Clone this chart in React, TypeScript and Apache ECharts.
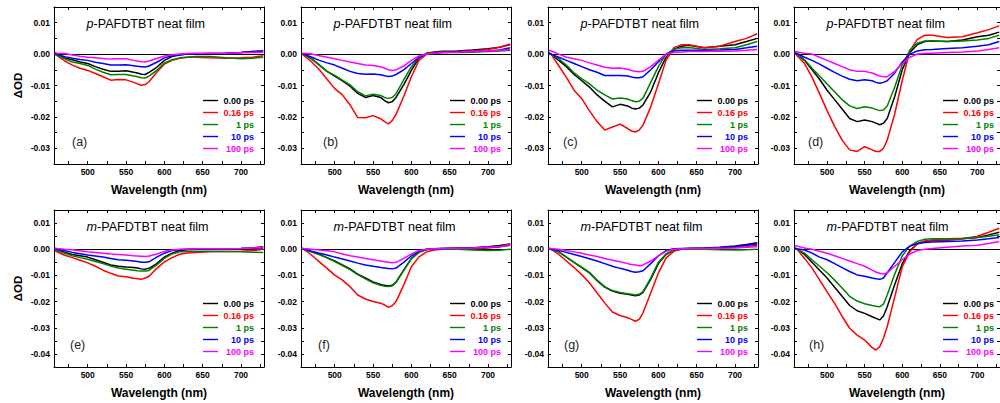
import React, { useEffect, useRef } from "react";
import * as echarts from "echarts";

// Wavelength sampling (nm)
const wavelengths = [457, 460, 470, 480, 490, 500, 510, 520, 530, 540, 550, 560, 565, 570, 575, 580, 590, 600, 610, 620, 630, 640, 660, 680, 700, 715, 729];
const delays = ["0.00 ps", "0.16 ps", "1 ps", "10 ps", "100 ps"];
const colors = ["#000000", "#ff0000", "#008000", "#0000ff", "#ff00ff"];
const xLabelValues = [500, 550, 600, 650, 700];
const xTickValues = [475, 500, 525, 550, 575, 600, 625, 650, 675, 700, 725];
const yLabelTop = [-0.03, -0.02, -0.01, 0, 0.01];
const yLabelBottom = [-0.04, -0.03, -0.02, -0.01, 0, 0.01];
const yTickTop = [-0.03, -0.025, -0.02, -0.015, -0.01, -0.005, 0, 0.005, 0.01];
const yTickBottom = [-0.04, -0.035, -0.03, -0.025, -0.02, -0.015, -0.01, -0.005, 0, 0.005, 0.01];

// (a) p-PAFDTBT
const a_t000 = [0.0005, 0, -0.0012, -0.0018, -0.0025, -0.003, -0.004, -0.0048, -0.0055, -0.0055, -0.0053, -0.0058, -0.006, -0.0064, -0.0065, -0.0058, -0.0042, -0.002, -0.0008, -0.0003, 0, 0, 0.0002, 0.0003, 0.0005, 0.0008, 0.001];
const a_t016 = [0, -0.0005, -0.0022, -0.0035, -0.0045, -0.0052, -0.0062, -0.0072, -0.0083, -0.0081, -0.0082, -0.009, -0.0095, -0.0099, -0.0097, -0.0088, -0.0058, -0.0032, -0.002, -0.0013, -0.001, -0.001, -0.0012, -0.0013, -0.0012, -0.001, -0.0005];
const a_t1 = [0, -0.0003, -0.0015, -0.0025, -0.003, -0.0036, -0.0048, -0.0058, -0.0066, -0.0065, -0.0065, -0.007, -0.0072, -0.0075, -0.0076, -0.007, -0.0052, -0.0028, -0.0018, -0.0012, -0.001, -0.0008, -0.0008, -0.0012, -0.0015, -0.0013, -0.001];
const a_t10 = [0.0003, 0, -0.0008, -0.0013, -0.0017, -0.002, -0.0026, -0.003, -0.0035, -0.0035, -0.0034, -0.0037, -0.0039, -0.004, -0.0041, -0.0038, -0.0026, -0.0012, -0.0005, -0.0002, 0, 0, 0.0002, 0.0003, 0.0005, 0.0008, 0.001];
const a_t100 = [0.0005, 0.0003, 0.0002, -0.0003, -0.0007, -0.001, -0.0012, -0.0014, -0.0016, -0.0015, -0.0015, -0.002, -0.0022, -0.0024, -0.0025, -0.0022, -0.0014, -0.0006, -0.0002, 0, 0.0002, 0.0003, 0.0003, 0.0002, 0.0004, 0.0005, 0.0006];

// (b) p-PAFDTBT
const b_t000 = [0, 0, -0.0015, -0.0035, -0.0055, -0.007, -0.0085, -0.0102, -0.0125, -0.0138, -0.0132, -0.0138, -0.0148, -0.0155, -0.0152, -0.0138, -0.0098, -0.0052, -0.0012, 0.0003, 0.0007, 0.0009, 0.001, 0.0013, 0.0017, 0.0022, 0.003];
const b_t016 = [0.0002, -0.0005, -0.0025, -0.005, -0.008, -0.011, -0.013, -0.0162, -0.0202, -0.0203, -0.0196, -0.0206, -0.0215, -0.0222, -0.0212, -0.0192, -0.0135, -0.0072, -0.002, 0, 0.0005, 0.0007, 0.0008, 0.001, 0.0015, 0.0022, 0.0032];
const b_t1 = [0, 0, -0.0015, -0.0035, -0.0055, -0.0068, -0.0083, -0.0098, -0.012, -0.0133, -0.0128, -0.0132, -0.0138, -0.0141, -0.0138, -0.0126, -0.0082, -0.004, -0.001, 0.0001, 0.0004, 0.0005, 0.0005, 0.0006, 0.0008, 0.001, 0.0012];
const b_t10 = [0.0002, 0, -0.001, -0.002, -0.0028, -0.0035, -0.0045, -0.0055, -0.0062, -0.0064, -0.0063, -0.0066, -0.0069, -0.0071, -0.007, -0.0065, -0.005, -0.003, -0.001, 0, 0.0003, 0.0005, 0.0007, 0.0008, 0.001, 0.0013, 0.002];
const b_t100 = [0.0003, 0.0003, 0, -0.0005, -0.001, -0.0015, -0.002, -0.0025, -0.003, -0.0035, -0.0036, -0.004, -0.0045, -0.005, -0.0052, -0.005, -0.0038, -0.002, -0.0006, 0, 0.0003, 0.0005, 0.0006, 0.0008, 0.001, 0.0012, 0.0015];

// (c) p-PAFDTBT
const c_t000 = [0.0003, 0, -0.002, -0.004, -0.0065, -0.0085, -0.0105, -0.013, -0.015, -0.0168, -0.016, -0.0165, -0.0172, -0.0175, -0.0172, -0.0162, -0.012, -0.006, -0.001, 0.0015, 0.0025, 0.0028, 0.002, 0.0025, 0.003, 0.004, 0.005];
const c_t016 = [0.0003, 0, -0.0037, -0.0074, -0.0115, -0.0142, -0.018, -0.0215, -0.0242, -0.0232, -0.0223, -0.0237, -0.0245, -0.0248, -0.0242, -0.0226, -0.0168, -0.0095, -0.002, 0.002, 0.003, 0.003, 0.002, 0.0025, 0.004, 0.005, 0.0065];
const c_t1 = [0, 0, -0.0015, -0.0035, -0.006, -0.0078, -0.0095, -0.0115, -0.013, -0.0143, -0.014, -0.0143, -0.0148, -0.0152, -0.015, -0.014, -0.009, -0.004, 0, 0.0015, 0.002, 0.0021, 0.0015, 0.0017, 0.002, 0.003, 0.004];
const c_t10 = [0.0005, 0, -0.001, -0.002, -0.003, -0.004, -0.005, -0.0058, -0.0068, -0.0068, -0.0068, -0.007, -0.0073, -0.0075, -0.0075, -0.0072, -0.005, -0.0025, 0, 0.001, 0.0012, 0.0012, 0.0012, 0.0013, 0.0015, 0.002, 0.0025];
const c_t100 = [0.0012, 0.001, 0, -0.001, -0.0015, -0.002, -0.0028, -0.0035, -0.0042, -0.0045, -0.0044, -0.0048, -0.0052, -0.0055, -0.0056, -0.0055, -0.004, -0.002, 0, 0.0005, 0.0007, 0.0008, 0.0008, 0.0009, 0.001, 0.0012, 0.0015];

// (d) p-PAFDTBT
const d_t000 = [0.0005, 0, -0.002, -0.005, -0.008, -0.0115, -0.0145, -0.0175, -0.0205, -0.0215, -0.021, -0.0215, -0.022, -0.0225, -0.022, -0.0205, -0.0135, -0.005, 0.0005, 0.003, 0.004, 0.0042, 0.004, 0.0045, 0.0055, 0.006, 0.007];
const d_t016 = [0.0005, -0.0005, -0.003, -0.0074, -0.0126, -0.018, -0.023, -0.0274, -0.0305, -0.031, -0.0295, -0.0305, -0.031, -0.031, -0.03, -0.0274, -0.019, -0.0084, 0.001, 0.0047, 0.006, 0.006, 0.0053, 0.0055, 0.0068, 0.0078, 0.009];
const d_t1 = [0.0002, 0, -0.0018, -0.0045, -0.007, -0.0095, -0.012, -0.0145, -0.0165, -0.0173, -0.0168, -0.0172, -0.0176, -0.018, -0.0178, -0.0165, -0.0105, -0.0035, 0.0012, 0.0035, 0.0042, 0.0042, 0.004, 0.0042, 0.0045, 0.005, 0.006];
const d_t10 = [0.0005, 0.0002, -0.001, -0.002, -0.0032, -0.0045, -0.0058, -0.007, -0.008, -0.0085, -0.0082, -0.0085, -0.009, -0.0093, -0.009, -0.0085, -0.006, -0.0025, 0, 0.001, 0.0014, 0.0015, 0.0018, 0.002, 0.0025, 0.003, 0.004];
const d_t100 = [0.0008, 0.0007, 0.0003, 0, -0.001, -0.002, -0.003, -0.004, -0.005, -0.0055, -0.0055, -0.006, -0.0065, -0.007, -0.0072, -0.0072, -0.0055, -0.003, -0.001, 0, 0.0002, 0.0003, 0.0005, 0.0007, 0.001, 0.0015, 0.002];

// (e) m-PAFDTBT
const e_t000 = [0, -0.0003, -0.0012, -0.002, -0.0025, -0.003, -0.004, -0.005, -0.006, -0.0065, -0.0068, -0.007, -0.0072, -0.0075, -0.0076, -0.0073, -0.0055, -0.003, -0.0015, -0.0005, -0.0002, 0, 0, 0.0001, 0.0003, 0.0005, 0.001];
const e_t016 = [-0.0005, -0.001, -0.0023, -0.0032, -0.0042, -0.0052, -0.0065, -0.008, -0.0092, -0.0102, -0.0105, -0.0111, -0.0113, -0.0115, -0.011, -0.0103, -0.0073, -0.0048, -0.0032, -0.0019, -0.0014, -0.0012, -0.001, -0.0009, -0.0008, -0.0005, 0];
const e_t1 = [0, -0.0005, -0.0015, -0.0025, -0.0032, -0.0038, -0.0047, -0.0055, -0.0064, -0.0072, -0.0076, -0.008, -0.0082, -0.0083, -0.0083, -0.0081, -0.006, -0.0035, -0.0018, -0.001, -0.0009, -0.0008, -0.0008, -0.0009, -0.001, -0.0011, -0.0012];
const e_t10 = [0.0003, 0, -0.0006, -0.0012, -0.0017, -0.0022, -0.0026, -0.003, -0.0035, -0.004, -0.0042, -0.0045, -0.0047, -0.005, -0.005, -0.0048, -0.003, -0.0015, -0.0005, -0.0002, 0, 0, 0.0001, 0.0002, 0.0003, 0.0004, 0.0005];
const e_t100 = [0.0005, 0.0003, 0, -0.0002, -0.0006, -0.001, -0.0012, -0.0015, -0.0018, -0.002, -0.0022, -0.0025, -0.0026, -0.0027, -0.0028, -0.0026, -0.0018, -0.0008, -0.0003, 0, 0.0001, 0.0002, 0.0002, 0.0002, 0.0003, 0.0005, 0.0008];

// (f) m-PAFDTBT
const f_t000 = [0, 0, -0.001, -0.002, -0.0032, -0.0045, -0.006, -0.0075, -0.0095, -0.011, -0.0125, -0.0135, -0.0138, -0.014, -0.0138, -0.0125, -0.008, -0.0035, -0.001, 0, 0.0002, 0.0003, 0.0005, 0.0006, 0.001, 0.0014, 0.002];
const f_t016 = [0, 0, -0.0023, -0.0048, -0.0073, -0.0099, -0.0118, -0.0143, -0.0175, -0.019, -0.02, -0.0206, -0.0213, -0.0222, -0.0216, -0.02, -0.0137, -0.0067, -0.0029, -0.001, -0.0003, 0, 0, 0.0002, 0.0005, 0.001, 0.002];
const f_t1 = [0, 0, -0.001, -0.002, -0.0033, -0.0047, -0.0062, -0.0078, -0.0097, -0.0113, -0.0128, -0.0138, -0.0141, -0.0142, -0.014, -0.0127, -0.0082, -0.0037, -0.0012, -0.0002, 0, 0, 0, -0.0003, -0.0005, -0.0004, 0];
const f_t10 = [0.0003, 0, -0.0008, -0.0015, -0.0022, -0.003, -0.0037, -0.0045, -0.0053, -0.006, -0.0065, -0.007, -0.0072, -0.0074, -0.0075, -0.0072, -0.005, -0.0025, -0.0008, 0, 0.0002, 0.0003, 0.0004, 0.0005, 0.0008, 0.001, 0.0015];
const f_t100 = [0.0005, 0.0003, 0, -0.0003, -0.0006, -0.001, -0.0018, -0.0025, -0.003, -0.0035, -0.004, -0.0045, -0.0048, -0.005, -0.0052, -0.005, -0.0035, -0.0018, -0.0005, 0, 0.0002, 0.0003, 0.0004, 0.0005, 0.0008, 0.001, 0.0015];

// (g) m-PAFDTBT
const g_t000 = [0, 0, -0.001, -0.003, -0.005, -0.007, -0.009, -0.012, -0.0145, -0.016, -0.0168, -0.0172, -0.0175, -0.0178, -0.0175, -0.0165, -0.0115, -0.0055, -0.002, -0.0003, 0.0001, 0.0003, 0.0005, 0.0008, 0.0012, 0.0018, 0.0025];
const g_t016 = [0.0003, 0, -0.002, -0.0045, -0.007, -0.0097, -0.0128, -0.0167, -0.0205, -0.024, -0.0253, -0.0262, -0.0268, -0.0275, -0.0268, -0.0243, -0.0167, -0.0091, -0.0034, -0.0008, 0, 0.0002, 0.0003, 0.0005, 0.0008, 0.001, 0.0015];
const g_t1 = [0, 0, -0.001, -0.003, -0.005, -0.0068, -0.0088, -0.0118, -0.0143, -0.0158, -0.0165, -0.017, -0.0172, -0.0175, -0.0172, -0.0162, -0.011, -0.005, -0.0018, -0.0003, 0, 0, 0, -0.0002, -0.0003, -0.0002, 0];
const g_t10 = [0.0003, 0, -0.0005, -0.0012, -0.002, -0.0028, -0.0036, -0.0045, -0.0055, -0.0065, -0.0073, -0.008, -0.0085, -0.0088, -0.0086, -0.0082, -0.0055, -0.0025, -0.0005, 0.0002, 0.0003, 0.0004, 0.0005, 0.0007, 0.001, 0.0015, 0.002];
const g_t100 = [0.0005, 0.0003, 0, -0.0005, -0.001, -0.0015, -0.0022, -0.0028, -0.0035, -0.0042, -0.0048, -0.0055, -0.0058, -0.006, -0.0063, -0.006, -0.0045, -0.0025, -0.0008, 0, 0.0002, 0.0003, 0.0003, 0.0004, 0.0005, 0.0008, 0.001];

// (h) m-PAFDTBT
const h_t000 = [0.0003, 0, -0.002, -0.005, -0.008, -0.011, -0.0145, -0.018, -0.0215, -0.0235, -0.0245, -0.0258, -0.0264, -0.027, -0.0255, -0.022, -0.0135, -0.0055, -0.0005, 0.002, 0.003, 0.0033, 0.0035, 0.004, 0.0045, 0.0055, 0.0065];
const h_t016 = [0.0003, 0, -0.0035, -0.0072, -0.0117, -0.0163, -0.0207, -0.0257, -0.0302, -0.0328, -0.0347, -0.0376, -0.0385, -0.0372, -0.034, -0.0295, -0.0182, -0.0067, -0.001, 0.0022, 0.0032, 0.0035, 0.0035, 0.004, 0.005, 0.0065, 0.008];
const h_t1 = [0, 0, -0.0015, -0.004, -0.0065, -0.009, -0.0118, -0.0148, -0.018, -0.0198, -0.0208, -0.0215, -0.0218, -0.022, -0.021, -0.0175, -0.0095, -0.0025, 0.0012, 0.003, 0.0038, 0.004, 0.004, 0.0042, 0.0045, 0.005, 0.0055];
const h_t10 = [0.0005, 0.0002, -0.0003, -0.0015, -0.003, -0.004, -0.0055, -0.007, -0.0085, -0.0098, -0.0103, -0.011, -0.0113, -0.0115, -0.011, -0.009, -0.005, -0.001, 0.0012, 0.0022, 0.0026, 0.0028, 0.003, 0.0032, 0.0035, 0.004, 0.0045];
const h_t100 = [0.0013, 0.0012, 0.0005, 0, -0.0008, -0.0015, -0.0025, -0.0035, -0.0045, -0.0055, -0.0065, -0.008, -0.0087, -0.0092, -0.0095, -0.009, -0.0065, -0.004, -0.0018, -0.0005, 0, 0.0003, 0.0008, 0.0012, 0.0015, 0.0022, 0.003];

const panelPolymer = ["p", "p", "p", "p", "m", "m", "m", "m"];
const panelLabels = ["(a)", "(b)", "(c)", "(d)", "(e)", "(f)", "(g)", "(h)"];
const panelData = [
  [a_t000, a_t016, a_t1, a_t10, a_t100],
  [b_t000, b_t016, b_t1, b_t10, b_t100],
  [c_t000, c_t016, c_t1, c_t10, c_t100],
  [d_t000, d_t016, d_t1, d_t10, d_t100],
  [e_t000, e_t016, e_t1, e_t10, e_t100],
  [f_t000, f_t016, f_t1, f_t10, f_t100],
  [g_t000, g_t016, g_t1, g_t10, g_t100],
  [h_t000, h_t016, h_t1, h_t10, h_t100],
];

const FONT = "'Liberation Sans', Arial, Helvetica, sans-serif";
const LEFTS = [54, 301, 548, 794];
const TOPS = [7, 210];
const W = 210;
const H = 157;
const LABEL_DX = [18, 22, 15, 14, 16, 17, 16, 15];

function buildOption() {
  const grid: any[] = [];
  const xAxis: any[] = [];
  const yAxis: any[] = [];
  const series: any[] = [];
  const legend: any[] = [];
  const title: any[] = [];

  const rich: any = {};
  delays.forEach((_, i) => {
    rich["c" + i] = {
      color: colors[i],
      width: 31,
      align: "right",
      fontSize: 9,
      fontWeight: "bold",
      fontFamily: FONT,
      lineHeight: 10.5,
    };
  });

  for (let k = 0; k < 8; k++) {
    const row = k < 4 ? 0 : 1;
    const col = k % 4;
    const left = LEFTS[col];
    const top = TOPS[row];
    grid.push({ left, top, width: W, height: H, containLabel: false });

    const tickStyle = { inside: true, length: 3, lineStyle: { color: "#000", width: 1 } };
    const lineStyle = { show: true, onZero: false, lineStyle: { color: "#000", width: 1 } };

    xAxis.push({
      type: "value",
      gridIndex: k,
      position: "bottom",
      min: 456,
      max: 730,
      axisLine: lineStyle,
      axisTick: { ...tickStyle, customValues: xTickValues },
      axisLabel: {
        customValues: xLabelValues,
        fontSize: 8.5,
        fontWeight: "bold",
        color: "#000",
        fontFamily: FONT,
        margin: 3,
      },
      splitLine: { show: false },
      name: "Wavelength (nm)",
      nameLocation: "middle",
      nameGap: 20,
      nameTextStyle: { fontSize: 12, fontWeight: "bold", color: "#000", fontFamily: FONT },
    });
    xAxis.push({
      type: "value",
      gridIndex: k,
      position: "top",
      min: 456,
      max: 730,
      axisLine: lineStyle,
      axisTick: { ...tickStyle, customValues: xTickValues },
      axisLabel: { show: false },
      splitLine: { show: false },
    });

    const yMin = row === 0 ? -0.035 : -0.045;
    const yLabels = row === 0 ? yLabelTop : yLabelBottom;
    const yTicks = row === 0 ? yTickTop : yTickBottom;
    yAxis.push({
      type: "value",
      gridIndex: k,
      position: "left",
      min: yMin,
      max: 0.015,
      axisLine: lineStyle,
      axisTick: { ...tickStyle, customValues: yTicks },
      axisLabel: {
        customValues: yLabels,
        formatter: (v: number) => (Math.abs(v) < 1e-9 ? "0.00" : v.toFixed(2)),
        fontSize: 8.5,
        fontWeight: "bold",
        color: "#000",
        fontFamily: FONT,
        margin: 4,
      },
      splitLine: { show: false },
      name: col === 0 ? "ΔOD" : "",
      nameLocation: "middle",
      nameGap: 30,
      nameRotate: 90,
      nameTextStyle: { fontSize: 11.5, fontWeight: "bold", color: "#000", fontFamily: FONT },
    });
    yAxis.push({
      type: "value",
      gridIndex: k,
      position: "right",
      min: yMin,
      max: 0.015,
      axisLine: lineStyle,
      axisTick: { ...tickStyle, customValues: yTicks },
      axisLabel: { show: false },
      splitLine: { show: false },
    });

    panelData[k].forEach((arr, si) => {
      const s: any = {
        type: "line",
        name: delays[si],
        xAxisIndex: 2 * k,
        yAxisIndex: 2 * k,
        data: wavelengths.map((w, i) => [w, arr[i]]),
        symbol: "none",
        showSymbol: false,
        lineStyle: { color: colors[si], width: 1.5 },
        itemStyle: { color: colors[si] },
        silent: true,
        z: 3 + si,
      };
      if (si === 0) {
        s.markLine = {
          silent: true,
          symbol: ["none", "none"],
          label: { show: false },
          lineStyle: { color: "#000", width: 1, type: "solid" },
          data: [{ yAxis: 0 }],
          z: 2,
        };
      }
      series.push(s);
    });

    legend.push({
      data: delays.map((n) => ({ name: n, icon: "rect" })),
      orient: "vertical",
      left: left + 149,
      top: top + 89,
      padding: 0,
      itemGap: 3,
      itemWidth: 15,
      itemHeight: 1.4,
      selectedMode: false,
      formatter: (name: string) => `{c${delays.indexOf(name)}|${name}}`,
      textStyle: { rich, fontSize: 9, fontWeight: "bold", fontFamily: FONT },
    });

    title.push({
      text: `{i|${panelPolymer[k]}}-PAFDTBT neat film`,
      left: left + 32.5,
      top: top + 10.5,
      padding: 0,
      textStyle: {
        fontSize: 12.6,
        fontWeight: "normal",
        color: "#000",
        fontFamily: FONT,
        rich: {
          i: { fontStyle: "italic", fontSize: 12.6, color: "#000", fontFamily: FONT },
        },
      },
    });
    title.push({
      text: panelLabels[k],
      left: left + LABEL_DX[k],
      top: top + 128.5,
      padding: 0,
      textStyle: { fontSize: 12.5, fontWeight: "normal", color: "#222", fontFamily: FONT },
    });
  }

  return {
    animation: false,
    backgroundColor: "#ffffff",
    grid,
    xAxis,
    yAxis,
    series,
    legend,
    title,
  };
}

export default function App() {
  const ref = useRef<HTMLDivElement>(null);
  useEffect(() => {
    if (!ref.current) return;
    const chart = echarts.init(ref.current, undefined, { renderer: "svg" });
    chart.setOption(buildOption() as any);
    return () => chart.dispose();
  }, []);
  return (
    <div
      ref={ref}
      style={{ position: "fixed", left: 0, top: 0, width: 1000, height: 403, background: "#fff" }}
    />
  );
}
